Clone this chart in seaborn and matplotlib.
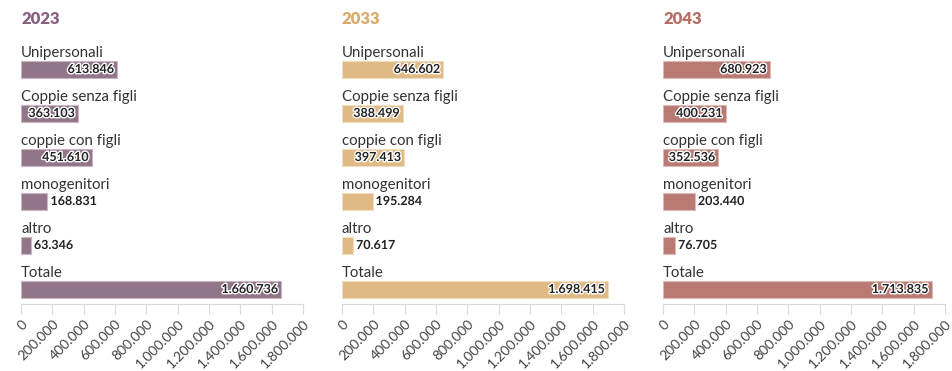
import matplotlib
matplotlib.use("Agg")
import matplotlib.pyplot as plt
import matplotlib.patheffects as pe
from matplotlib.ticker import FuncFormatter
import seaborn as sns
import pandas as pd

sns.set_theme(style="white")
plt.rcParams["font.family"] = ["Lato", "DejaVu Sans"]

# Household types (Italian labels)
categories = ["Unipersonali", "Coppie senza figli", "coppie con figli",
              "monogenitori", "altro", "Totale"]
years = ["2023", "2033", "2043"]
values_2023 = [613846, 363103, 451610, 168831, 63346, 1660736]
values_2033 = [646602, 388499, 397413, 195284, 70617, 1698415]
values_2043 = [680923, 400231, 352536, 203440, 76705, 1713835]
xticks = [0, 200000, 400000, 600000, 800000, 1000000, 1200000,
          1400000, 1600000, 1800000]

bar_colors = {"2023": "#927588", "2033": "#e0ba85", "2043": "#b87a72"}
edge_colors = {"2023": "#c9b6c4", "2033": "#f0dcc0", "2043": "#dcbab5"}
title_colors = {"2023": "#86607e", "2033": "#d9aa6c", "2043": "#b56d64"}

df = pd.DataFrame({
    "anno": [y for y in years for _ in categories],
    "tipo": categories * 3,
    "valore": values_2023 + values_2033 + values_2043,
})


def it_fmt(v):
    return f"{int(round(v)):,}".replace(",", ".")


W, H = 952, 371
fig = plt.figure(figsize=(W / 100, H / 100), dpi=100)

x_left = [21, 342, 663]
ax_w = 282
ax_top, ax_bot = 40, 304
XMAX = 1800000
bar_h_px = 17
step_px = 44

for yr, xl in zip(years, x_left):
    ax = fig.add_axes([xl / W, 1 - ax_bot / H, ax_w / W, (ax_bot - ax_top) / H])
    sub = df[df["anno"] == yr]
    sns.barplot(data=sub, x="valore", y="tipo", order=categories, ax=ax,
                color=bar_colors[yr], orient="h", width=bar_h_px / step_px,
                edgecolor=edge_colors[yr], linewidth=0.8, saturation=1)
    ax.set_xlim(0, XMAX)
    # bar 0 centred at y=69px, axis line at 304px
    top_units = (69 - ax_top) / step_px
    bot_units = 5 + (ax_bot - 289) / step_px
    ax.set_ylim(bot_units, -top_units)

    for i, (cat, val) in enumerate(zip(sub["tipo"], sub["valore"])):
        ax.text(0, i - 0.27, cat, ha="left", va="baseline", fontsize=10.8,
                color="#333333")
        bar_px = val / XMAX * ax_w
        label = it_fmt(val)
        halo = [pe.withStroke(linewidth=2, foreground="white")]
        if bar_px > 55:
            ax.text(val - XMAX * 3 / ax_w, i, label, ha="right", va="center",
                    fontsize=9, fontweight="bold", color="#222222",
                    path_effects=halo)
        else:
            ax.text(val + XMAX * 3 / ax_w, i, label, ha="left", va="center",
                    fontsize=9, fontweight="bold", color="#222222",
                    path_effects=halo)

    ax.set_xticks(xticks)
    ax.xaxis.set_major_formatter(FuncFormatter(lambda v, p: it_fmt(v)))
    ax.tick_params(axis="x", bottom=True, length=7, width=0.8, color="#d9d9d9",
                   labelsize=10, labelcolor="#444444", pad=3)
    for lbl in ax.get_xticklabels():
        lbl.set_rotation(45)
        lbl.set_ha("right")
        lbl.set_rotation_mode("anchor")
    ax.set_yticks([])
    ax.set_xlabel("")
    ax.set_ylabel("")
    for s in ["top", "right", "left"]:
        ax.spines[s].set_visible(False)
    ax.spines["bottom"].set_color("#d9d9d9")
    ax.spines["bottom"].set_linewidth(0.8)
    ax.set_facecolor("none")

    fig.text(xl / W, 1 - 19 / H, yr, ha="left", va="center", fontsize=12,
             fontweight="heavy", color=title_colors[yr])

fig.savefig("out.png", dpi=100)
